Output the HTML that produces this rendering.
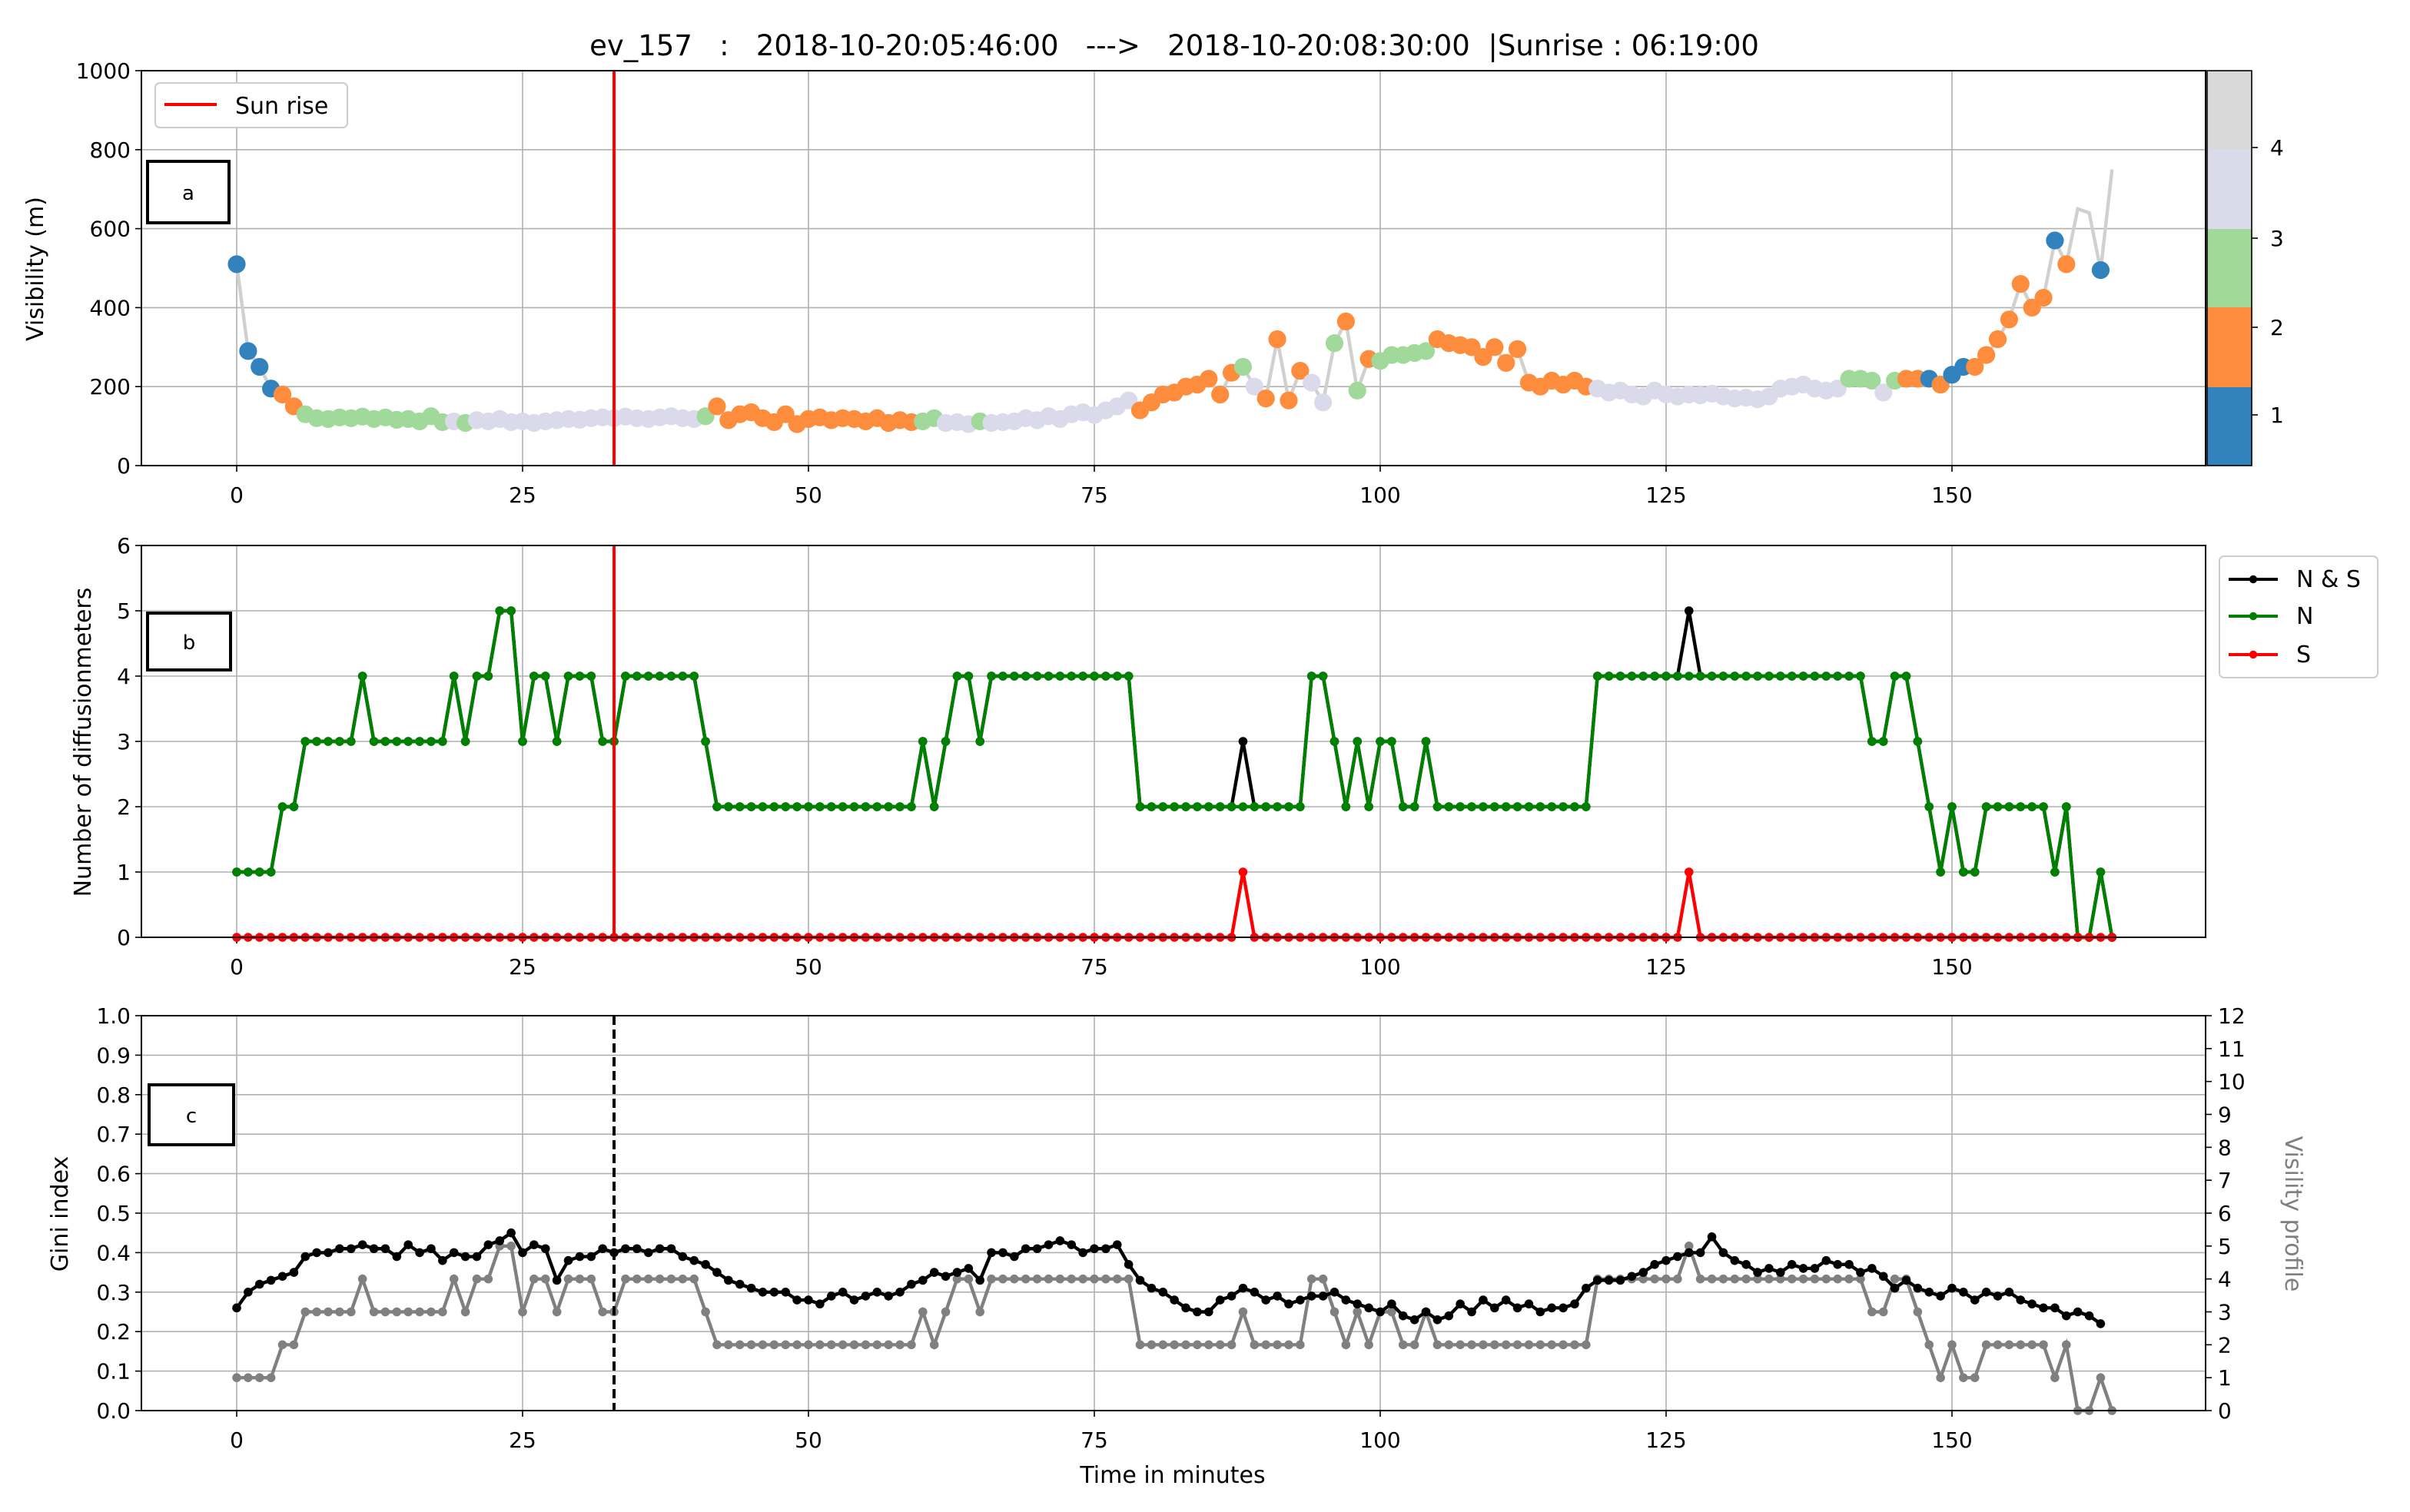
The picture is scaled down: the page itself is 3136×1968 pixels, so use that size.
<!DOCTYPE html>
<html><head><meta charset="utf-8"><style>
html,body{margin:0;padding:0;background:#fff}
svg{display:block;font-family:"DejaVu Sans","Liberation Sans",sans-serif}
</style></head><body>
<svg id="fig" xmlns="http://www.w3.org/2000/svg" width="3136" height="1968" viewBox="0 0 1568 984">
<rect width="1568" height="984" fill="#fff"/>
<text x="764" y="36" font-size="18.5" text-anchor="middle" fill="#000" xml:space="preserve">ev_157   :   2018-10-20:05:46:00   ---&gt;   2018-10-20:08:30:00  |Sunrise : 06:19:00</text>
<g id="g"></g>
</svg>
<script>
const visibility=[510,290,250,195,180,150,130,120,118,122,120,124,118,122,116,118,112,125,110,112,108,115,112,118,110,112,108,112,115,118,116,120,122,120,124,120,118,122,125,120,118,125,150,115,130,135,120,110,130,105,118,122,115,120,118,112,120,108,115,110,112,120,108,110,105,112,108,110,112,120,115,125,118,130,135,128,140,150,165,140,160,180,185,200,205,220,180,235,250,200,170,320,165,240,210,160,310,365,190,270,265,280,280,285,290,320,310,305,300,275,300,260,295,210,200,215,205,215,200,195,185,190,180,175,190,180,175,180,178,182,175,170,172,168,175,195,200,205,195,190,195,220,220,215,185,215,220,220,220,205,230,250,250,280,320,370,460,400,425,570,510,650,640,495,750];
const category=[1,1,1,1,2,2,3,3,3,3,3,3,3,3,3,3,3,3,3,4,3,4,4,4,4,4,4,4,4,4,4,4,4,4,4,4,4,4,4,4,4,3,2,2,2,2,2,2,2,2,2,2,2,2,2,2,2,2,2,2,3,3,4,4,4,3,4,4,4,4,4,4,4,4,4,4,4,4,4,2,2,2,2,2,2,2,2,2,3,4,2,2,2,2,4,4,3,2,3,2,3,3,3,3,3,2,2,2,2,2,2,2,2,2,2,2,2,2,2,4,4,4,4,4,4,4,4,4,4,4,4,4,4,4,4,4,4,4,4,4,4,3,3,3,4,3,2,2,1,2,1,1,2,2,2,2,2,2,2,1,2,0,0,1,0];
const countN=[1,1,1,1,2,2,3,3,3,3,3,4,3,3,3,3,3,3,3,4,3,4,4,5,5,3,4,4,3,4,4,4,3,3,4,4,4,4,4,4,4,3,2,2,2,2,2,2,2,2,2,2,2,2,2,2,2,2,2,2,3,2,3,4,4,3,4,4,4,4,4,4,4,4,4,4,4,4,4,2,2,2,2,2,2,2,2,2,2,2,2,2,2,2,4,4,3,2,3,2,3,3,2,2,3,2,2,2,2,2,2,2,2,2,2,2,2,2,2,4,4,4,4,4,4,4,4,4,4,4,4,4,4,4,4,4,4,4,4,4,4,4,4,3,3,4,4,3,2,1,2,1,1,2,2,2,2,2,2,1,2,0,0,1,0];
const countS=[0,0,0,0,0,0,0,0,0,0,0,0,0,0,0,0,0,0,0,0,0,0,0,0,0,0,0,0,0,0,0,0,0,0,0,0,0,0,0,0,0,0,0,0,0,0,0,0,0,0,0,0,0,0,0,0,0,0,0,0,0,0,0,0,0,0,0,0,0,0,0,0,0,0,0,0,0,0,0,0,0,0,0,0,0,0,0,0,1,0,0,0,0,0,0,0,0,0,0,0,0,0,0,0,0,0,0,0,0,0,0,0,0,0,0,0,0,0,0,0,0,0,0,0,0,0,0,1,0,0,0,0,0,0,0,0,0,0,0,0,0,0,0,0,0,0,0,0,0,0,0,0,0,0,0,0,0,0,0,0,0,0,0,0,0];
const gini=[0.26,0.30,0.32,0.33,0.34,0.35,0.39,0.40,0.40,0.41,0.41,0.42,0.41,0.41,0.39,0.42,0.40,0.41,0.38,0.40,0.39,0.39,0.42,0.43,0.45,0.40,0.42,0.41,0.33,0.38,0.39,0.39,0.41,0.40,0.41,0.41,0.40,0.41,0.41,0.39,0.38,0.37,0.35,0.33,0.32,0.31,0.30,0.30,0.30,0.28,0.28,0.27,0.29,0.30,0.28,0.29,0.30,0.29,0.30,0.32,0.33,0.35,0.34,0.35,0.36,0.33,0.40,0.40,0.39,0.41,0.41,0.42,0.43,0.42,0.40,0.41,0.41,0.42,0.37,0.33,0.31,0.30,0.28,0.26,0.25,0.25,0.28,0.29,0.31,0.30,0.28,0.29,0.27,0.28,0.29,0.29,0.30,0.28,0.27,0.26,0.25,0.27,0.24,0.23,0.25,0.23,0.24,0.27,0.25,0.28,0.26,0.28,0.26,0.27,0.25,0.26,0.26,0.27,0.31,0.33,0.33,0.33,0.34,0.35,0.37,0.38,0.39,0.40,0.40,0.44,0.40,0.38,0.37,0.35,0.36,0.35,0.37,0.36,0.36,0.38,0.37,0.37,0.35,0.36,0.34,0.31,0.33,0.31,0.30,0.29,0.31,0.30,0.28,0.30,0.29,0.30,0.28,0.27,0.26,0.26,0.24,0.25,0.24,0.22];
const xTicks=[0,25,50,75,100,125,150];
const visTicks=[0,200,400,600,800,1000];
const cntTicks=[0,1,2,3,4,5,6];
const giniTicks=[0,0.1,0.2,0.3,0.4,0.5,0.6,0.7,0.8,0.9,1.0];
const profTicks=[0,1,2,3,4,5,6,7,8,9,10,11,12];
const sunrise=33;
const catColors=["none","#3182bd","#fd8d3c","#a1d99b","#dadaeb"];

const NS="http://www.w3.org/2000/svg";
const G=document.getElementById('g');
function mk(tag,attrs,parent,txt){const e=document.createElementNS(NS,tag);for(const k in attrs)e.setAttribute(k,attrs[k]);if(txt!==undefined)e.textContent=txt;(parent||G).appendChild(e);return e;}
const X0=92,X1=1435;
const xs=v=>154+v*(1270-154)/150;
const panels=[{top:46,bot:303},{top:355,bot:610},{top:661,bot:918}];
function ysc(p,min,max){return v=>p.bot-(v-min)/(max-min)*(p.bot-p.top);}
function axes(p,ticks,y,fmt,name){
  const g=mk('g',{});
  ticks.forEach(t=>{const yy=y(t);mk('line',{x1:X0,x2:X1,y1:yy,y2:yy,stroke:'#b0b0b0','stroke-width':0.8},g);
    mk('line',{x1:X0-4,x2:X0,y1:yy,y2:yy,stroke:'#000','stroke-width':0.8},g);
    const tl=mk('text',{x:X0-7,y:yy+5,'font-size':14,'text-anchor':'end'},g,fmt(t));});
  xTicks.forEach(t=>{const xx=xs(t);mk('line',{x1:xx,x2:xx,y1:p.top,y2:p.bot,stroke:'#b0b0b0','stroke-width':0.8},g);
    mk('line',{x1:xx,x2:xx,y1:p.bot,y2:p.bot+4,stroke:'#000','stroke-width':0.8},g);
    const tl=mk('text',{x:xx,y:p.bot+24,'font-size':14,'text-anchor':'middle'},g,String(t));});
  return g;
}
function frame(p,name){const r=mk('rect',{x:X0,y:p.top,width:X1-X0,height:p.bot-p.top,fill:'none',stroke:'#000','stroke-width':1});}
function labelBox(x,y,w,h,t,name){const g=mk('g',{});
  mk('rect',{x:x,y:y,width:w,height:h,fill:'#fff',stroke:'#000','stroke-width':2},g);mk('text',{x:x+w/2,y:y+h/2+5,'font-size':13,'text-anchor':'middle'},g,t);}
function ylab(x,y,t,name,rot,col){const e=mk('text',{x:x,y:y,'font-size':15,'text-anchor':'middle',transform:`rotate(${rot} ${x} ${y})`,fill:col||'#000'},G,t);}
const pts=(arr,y)=>arr.map((v,i)=>xs(i)+','+y(v)).join(' ');

// Panel a
const pa=panels[0],ya=ysc(pa,0,1000);
axes(pa,visTicks,ya,String,'panel-a-grid');
const la=mk('polyline',{points:pts(visibility,ya),fill:'none',stroke:'#d0d0d0','stroke-width':2.2});

visibility.forEach((v,i)=>{if(!category[i])return;const c=mk('circle',{cx:xs(i),cy:ya(v),r:5.8,fill:catColors[category[i]]});});
const sr=mk('line',{x1:xs(sunrise),x2:xs(sunrise),y1:pa.top,y2:pa.bot,stroke:'#ff0000','stroke-width':2});
frame(pa,'panel-a-axes');
labelBox(96,105,53,40,'a','panel-a-label');
{const g=mk('g',{});
 mk('rect',{x:101,y:54,width:125,height:29,rx:3,fill:'#fff',stroke:'#ccc'},g);
 mk('line',{x1:107,x2:141,y1:68,y2:68,stroke:'#ff0000','stroke-width':2},g);
 mk('text',{x:153,y:74,'font-size':15},g,'Sun rise');}
ylab(28,175,'Visibility (m)','y-axis-title-visibility',-90);
{const g=mk('g',{});
 const bands=[["#3182bd",303,252],["#fd8d3c",252,200],["#a1d99b",200,149],["#dadaeb",149,97],["#d9d9d9",97,46]];
 bands.forEach(b=>mk('rect',{x:1436,y:b[2],width:29,height:b[1]-b[2],fill:b[0]},g));
 mk('rect',{x:1436,y:46,width:29,height:257,fill:'none',stroke:'#000','stroke-width':0.8},g);
 [[1,270],[2,213],[3,155],[4,96]].forEach(t=>{mk('line',{x1:1465,x2:1469,y1:t[1],y2:t[1],stroke:'#000','stroke-width':0.8},g);mk('text',{x:1477,y:t[1]+5,'font-size':14},g,String(t[0]));});}

// Panel b
const pb=panels[1],yb=ysc(pb,0,6);
axes(pb,cntTicks,yb,String,'panel-b-grid');
const total=countN.map((v,i)=>v+countS[i]);
[[total,'#000','series-n-and-s'],[countN,'#008000','series-n'],[countS,'#ff0000','series-s']].forEach(s=>{
  const g=mk('g',{});
  mk('polyline',{points:pts(s[0],yb),fill:'none',stroke:s[1],'stroke-width':2.2},g);
  s[0].forEach((v,i)=>mk('circle',{cx:xs(i),cy:yb(v),r:2.9,fill:s[1]},g));});
const sr2=mk('line',{x1:xs(sunrise),x2:xs(sunrise),y1:pb.top,y2:pb.bot,stroke:'#ff0000','stroke-width':2});
frame(pb,'panel-b-axes');
labelBox(96,399,54,37,'b','panel-b-label');
ylab(59,483,'Number of diffusionmeters','y-axis-title-count',-90);
{const g=mk('g',{});
 mk('rect',{x:1444,y:362,width:103,height:79,rx:3,fill:'#fff',stroke:'#ccc'},g);
 [['N & S','#000',377],['N','#008000',401],['S','#ff0000',426]].forEach(e=>{mk('line',{x1:1450,x2:1482,y1:e[2],y2:e[2],stroke:e[1],'stroke-width':2},g);mk('circle',{cx:1466,cy:e[2],r:2.6,fill:e[1]},g);mk('text',{x:1494,y:e[2]+5,'font-size':15},g,e[0]);});}

// Panel c
const pc=panels[2],yc=ysc(pc,0,1),yr=ysc(pc,0,12);
axes(pc,giniTicks,yc,v=>v.toFixed(1),'panel-c-grid');
{const g=mk('g',{});
 mk('polyline',{points:pts(total,yr),fill:'none',stroke:'#808080','stroke-width':2.2},g);
 total.forEach((v,i)=>mk('circle',{cx:xs(i),cy:yr(v),r:2.9,fill:'#808080'},g));}
{const g=mk('g',{});
 mk('polyline',{points:pts(gini,yc),fill:'none',stroke:'#000','stroke-width':2.2},g);
 gini.forEach((v,i)=>mk('circle',{cx:xs(i),cy:yc(v),r:2.9,fill:'#000'},g));}
const sr3=mk('line',{x1:xs(sunrise),x2:xs(sunrise),y1:pc.top,y2:pc.bot,stroke:'#000','stroke-width':2,'stroke-dasharray':'6,3'});
frame(pc,'panel-c-axes');
{const g=mk('g',{});
 profTicks.forEach(t=>{const yy=yr(t);mk('line',{x1:X1,x2:X1+4,y1:yy,y2:yy,stroke:'#000','stroke-width':0.8},g);mk('text',{x:X1+8,y:yy+5,'font-size':14},g,String(t));});}
labelBox(97,706,55,39,'c','panel-c-label');
ylab(44,790,'Gini index','y-axis-title-gini',-90);
ylab(1487,790,'Visility profile','y-axis-title-profile',90,'#808080');
{const e=mk('text',{x:763,y:965,'font-size':15,'text-anchor':'middle'},G,'Time in minutes');}
</script>
</body></html>
